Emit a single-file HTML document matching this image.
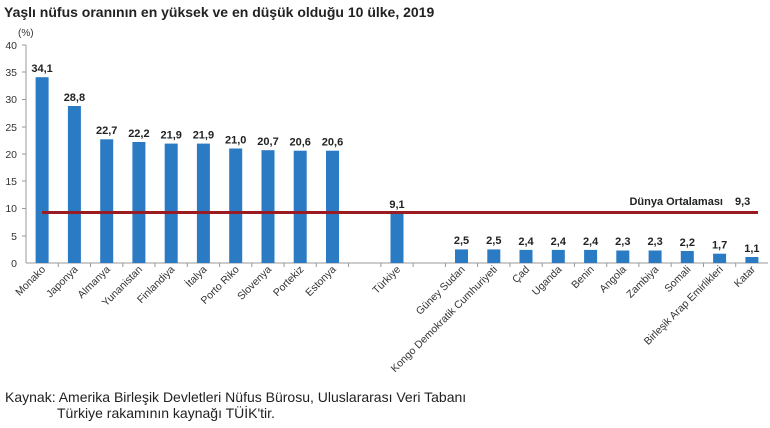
<!DOCTYPE html>
<html><head><meta charset="utf-8"><style>
body{margin:0;background:#fff;width:770px;height:423px;overflow:hidden;font-family:"Liberation Sans",sans-serif}
</style></head><body>
<svg width="770" height="423" xmlns="http://www.w3.org/2000/svg" font-family="Liberation Sans, sans-serif">
<text x="4" y="17" font-size="14" font-weight="bold" fill="#222">Yaşlı nüfus oranının en yüksek ve en düşük olduğu 10 ülke, 2019</text>
<text x="18" y="36" font-size="10" fill="#333">(%)</text>
<g font-size="10.5" fill="#333" text-anchor="end">
<text x="17" y="49">40</text><text x="17" y="76">35</text><text x="17" y="103">30</text><text x="17" y="131">25</text><text x="17" y="158">20</text><text x="17" y="185">15</text><text x="17" y="212">10</text><text x="17" y="240">5</text><text x="17" y="267">0</text>
</g>
<line x1="26" y1="45" x2="26" y2="263" stroke="#999"/>
<line x1="26" y1="263" x2="768" y2="263" stroke="#999"/>
<g stroke="#999">
<line x1="22" y1="45" x2="26" y2="45"/><line x1="22" y1="72" x2="26" y2="72"/><line x1="22" y1="99.5" x2="26" y2="99.5"/><line x1="22" y1="127" x2="26" y2="127"/><line x1="22" y1="154" x2="26" y2="154"/><line x1="22" y1="181" x2="26" y2="181"/><line x1="22" y1="208.5" x2="26" y2="208.5"/><line x1="22" y1="236" x2="26" y2="236"/>
<line x1="58.3" y1="263" x2="58.3" y2="267"/><line x1="90.5" y1="263" x2="90.5" y2="267"/><line x1="122.8" y1="263" x2="122.8" y2="267"/><line x1="155" y1="263" x2="155" y2="267"/><line x1="187.3" y1="263" x2="187.3" y2="267"/><line x1="219.6" y1="263" x2="219.6" y2="267"/><line x1="251.8" y1="263" x2="251.8" y2="267"/><line x1="284.1" y1="263" x2="284.1" y2="267"/><line x1="316.3" y1="263" x2="316.3" y2="267"/><line x1="348.6" y1="263" x2="348.6" y2="267"/><line x1="380.9" y1="263" x2="380.9" y2="267"/><line x1="413.1" y1="263" x2="413.1" y2="267"/><line x1="445.4" y1="263" x2="445.4" y2="267"/><line x1="477.6" y1="263" x2="477.6" y2="267"/><line x1="509.9" y1="263" x2="509.9" y2="267"/><line x1="542.2" y1="263" x2="542.2" y2="267"/><line x1="574.4" y1="263" x2="574.4" y2="267"/><line x1="606.7" y1="263" x2="606.7" y2="267"/><line x1="638.9" y1="263" x2="638.9" y2="267"/><line x1="671.2" y1="263" x2="671.2" y2="267"/><line x1="703.5" y1="263" x2="703.5" y2="267"/><line x1="735.7" y1="263" x2="735.7" y2="267"/>
</g>
<g fill="#2a7bc4">
<rect x="35.6" y="77.2" width="13" height="185.8"/>
<rect x="67.9" y="106" width="13" height="157"/>
<rect x="100.2" y="139.3" width="13" height="123.7"/>
<rect x="132.4" y="142" width="13" height="121"/>
<rect x="164.7" y="143.6" width="13" height="119.4"/>
<rect x="196.9" y="143.6" width="13" height="119.4"/>
<rect x="229.2" y="148.5" width="13" height="114.5"/>
<rect x="261.5" y="150.2" width="13" height="112.8"/>
<rect x="293.7" y="150.7" width="13" height="112.3"/>
<rect x="326" y="150.7" width="13" height="112.3"/>
<rect x="390.5" y="213.4" width="13" height="49.6"/>
<rect x="455" y="249.4" width="13" height="13.6"/>
<rect x="487.3" y="249.4" width="13" height="13.6"/>
<rect x="519.5" y="249.9" width="13" height="13.1"/>
<rect x="551.8" y="249.9" width="13" height="13.1"/>
<rect x="584.1" y="249.9" width="13" height="13.1"/>
<rect x="616.3" y="250.5" width="13" height="12.5"/>
<rect x="648.6" y="250.5" width="13" height="12.5"/>
<rect x="680.8" y="251" width="13" height="12"/>
<rect x="713.1" y="253.7" width="13" height="9.3"/>
<rect x="745.4" y="257" width="13" height="6"/>
</g>
<g font-size="11" font-weight="bold" text-anchor="middle" fill="#222">
<text x="42.1" y="72">34,1</text>
<text x="74.4" y="101">28,8</text>
<text x="106.7" y="134">22,7</text>
<text x="138.9" y="137">22,2</text>
<text x="171.2" y="138.5">21,9</text>
<text x="203.4" y="138.5">21,9</text>
<text x="235.7" y="143.5">21,0</text>
<text x="268" y="145">20,7</text>
<text x="300.2" y="145.5">20,6</text>
<text x="332.5" y="145.5">20,6</text>
<text x="397" y="208">9,1</text>
<text x="461.5" y="244">2,5</text>
<text x="493.8" y="244">2,5</text>
<text x="526" y="245">2,4</text>
<text x="558.3" y="245">2,4</text>
<text x="590.6" y="245">2,4</text>
<text x="622.8" y="245">2,3</text>
<text x="655.1" y="245">2,3</text>
<text x="687.3" y="246">2,2</text>
<text x="719.6" y="248.5">1,7</text>
<text x="751.9" y="252">1,1</text>
</g>
<g font-size="10.5" text-anchor="end" fill="#333">
<text transform="translate(46,270) rotate(-45)">Monako</text>
<text transform="translate(78.4,270) rotate(-45)">Japonya</text>
<text transform="translate(110.7,270) rotate(-45)">Almanya</text>
<text transform="translate(142.9,270) rotate(-45)">Yunanistan</text>
<text transform="translate(175.2,270) rotate(-45)">Finlandiya</text>
<text transform="translate(207.4,270) rotate(-45)">İtalya</text>
<text transform="translate(239.7,270) rotate(-45)">Porto Riko</text>
<text transform="translate(272,270) rotate(-45)">Slovenya</text>
<text transform="translate(304.2,270) rotate(-45)">Portekiz</text>
<text transform="translate(336.5,270) rotate(-45)">Estonya</text>
<text transform="translate(401,270) rotate(-45)">Türkiye</text>
<text transform="translate(465.5,270) rotate(-45)">Güney Sudan</text>
<text transform="translate(497.8,270) rotate(-45)">Kongo Demokratik Cumhuriyeti</text>
<text transform="translate(530,270) rotate(-45)">Çad</text>
<text transform="translate(562.3,270) rotate(-45)">Uganda</text>
<text transform="translate(594.6,270) rotate(-45)">Benin</text>
<text transform="translate(626.8,270) rotate(-45)">Angola</text>
<text transform="translate(659.1,270) rotate(-45)">Zambiya</text>
<text transform="translate(691.3,270) rotate(-45)">Somali</text>
<text transform="translate(723.6,270) rotate(-45)">Birleşik Arap Emirlikleri</text>
<text transform="translate(755.9,270) rotate(-45)">Katar</text>
</g>
<line x1="42" y1="212.5" x2="758" y2="212.5" stroke="#9b1b22" stroke-width="3"/>
<text x="723" y="205" font-size="11" font-weight="bold" text-anchor="end" fill="#222">Dünya Ortalaması</text>
<text x="735" y="205" font-size="11" font-weight="bold" fill="#222">9,3</text>
<text x="5" y="402" font-size="14" fill="#222">Kaynak: Amerika Birleşik Devletleri Nüfus Bürosu, Uluslararası Veri Tabanı</text>
<text x="57" y="418" font-size="14" fill="#222">Türkiye rakamının kaynağı TÜİK'tir.</text>
</svg>
</body></html>
